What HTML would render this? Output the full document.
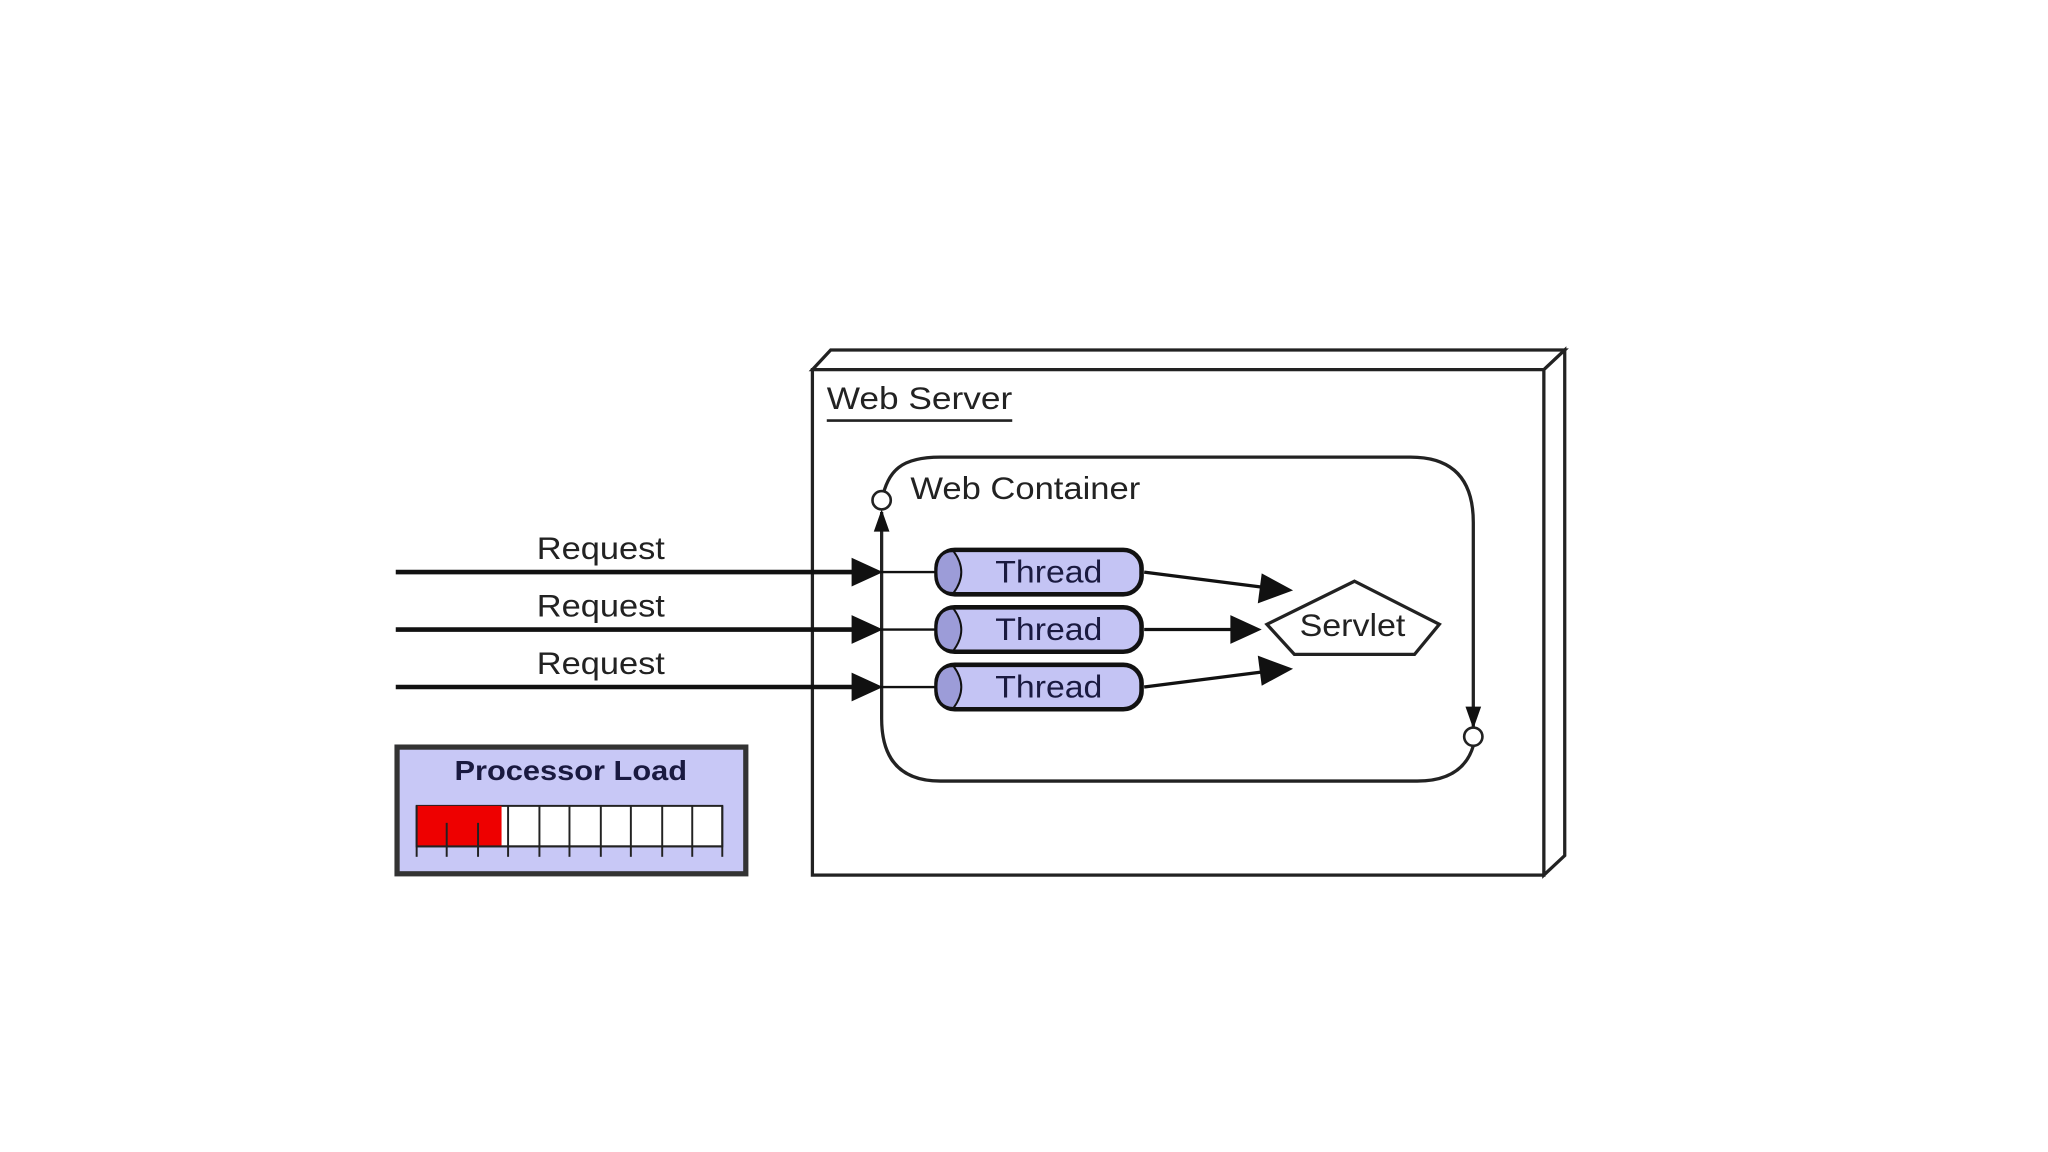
<!DOCTYPE html>
<html><head><meta charset="utf-8"><style>html,body{margin:0;padding:0;background:#fff;}svg{display:block}</style></head>
<body>
<svg width="2048" height="1152" viewBox="0 0 1568 882" preserveAspectRatio="none" xmlns="http://www.w3.org/2000/svg" font-family="Liberation Sans, sans-serif">
<rect width="1568" height="882" fill="#fff"/>
<g stroke="#222" stroke-width="2.5" fill="#fff">
<polygon points="622,283 636,268 1198,268 1182,283"/>
<polygon points="1182,283 1198,268 1198,655 1182,670"/>
<rect x="622" y="283" width="560" height="387"/>
</g>
<text x="633" y="313" font-size="24" fill="#222" textLength="142" lengthAdjust="spacingAndGlyphs">Web Server</text>
<line x1="633" y1="322" x2="775" y2="322" stroke="#222" stroke-width="2"/>
<path d="M675,383 C680,360 690,350 720,350 L1080,350 Q1128,350 1128,400 L1128,557" fill="none" stroke="#222" stroke-width="2.5"/>
<path d="M675,392 L675,550 Q675,598 720,598 L1085,598 Q1120,598 1128,571" fill="none" stroke="#222" stroke-width="2.5"/>
<polygon points="675,390 669,407 681,407" fill="#111"/>
<polygon points="1128,558 1122,541 1134,541" fill="#111"/>
<circle cx="675" cy="383" r="7" fill="#fff" stroke="#222" stroke-width="2"/>
<circle cx="1128" cy="564" r="7" fill="#fff" stroke="#222" stroke-width="2"/>
<text x="697" y="382" font-size="24" fill="#222" textLength="176" lengthAdjust="spacingAndGlyphs">Web Container</text>
<g font-size="24" fill="#222">
<text x="411" y="428" textLength="98" lengthAdjust="spacingAndGlyphs">Request</text>
<text x="411" y="472" textLength="98" lengthAdjust="spacingAndGlyphs">Request</text>
<text x="411" y="516" textLength="98" lengthAdjust="spacingAndGlyphs">Request</text>
</g>
<g stroke="#111">
<line x1="303" y1="438" x2="655" y2="438" stroke-width="3.5"/>
<line x1="303" y1="482" x2="655" y2="482" stroke-width="3.5"/>
<line x1="303" y1="526" x2="655" y2="526" stroke-width="3.5"/>
<line x1="655" y1="438" x2="718" y2="438" stroke-width="1.8"/>
<line x1="655" y1="482" x2="718" y2="482" stroke-width="1.8"/>
<line x1="655" y1="526" x2="718" y2="526" stroke-width="1.8"/>
</g>
<g fill="#111">
<polygon points="676,438 652,427 652,449"/>
<polygon points="676,482 652,471 652,493"/>
<polygon points="676,526 652,515 652,537"/>
</g>
<g>
<rect x="717" y="421" width="157" height="34" rx="14" fill="#c4c4f4" stroke="#111" stroke-width="3.5"/>
<path d="M730,422 Q742,438 730,454 Q717,454 717,438 Q717,422 730,422Z" fill="#9c9cd8" stroke="#111" stroke-width="1.5"/>
<rect x="717" y="465" width="157" height="34" rx="14" fill="#c4c4f4" stroke="#111" stroke-width="3.5"/>
<path d="M730,466 Q742,482 730,498 Q717,498 717,482 Q717,466 730,466Z" fill="#9c9cd8" stroke="#111" stroke-width="1.5"/>
<rect x="717" y="509" width="157" height="34" rx="14" fill="#c4c4f4" stroke="#111" stroke-width="3.5"/>
<path d="M730,510 Q742,526 730,542 Q717,542 717,526 Q717,510 730,510Z" fill="#9c9cd8" stroke="#111" stroke-width="1.5"/>
</g>
<g font-size="24" fill="#1a1a40">
<text x="762" y="446" textLength="82" lengthAdjust="spacingAndGlyphs">Thread</text>
<text x="762" y="490" textLength="82" lengthAdjust="spacingAndGlyphs">Thread</text>
<text x="762" y="534" textLength="82" lengthAdjust="spacingAndGlyphs">Thread</text>
</g>
<g stroke="#111" stroke-width="2.5">
<line x1="876" y1="438" x2="970" y2="450"/>
<line x1="876" y1="482" x2="945" y2="482"/>
<line x1="876" y1="526" x2="970" y2="514"/>
</g>
<g fill="#111">
<polygon points="990,452 966,439 963,462"/>
<polygon points="966,482 942,471 942,493"/>
<polygon points="990,512 963,502 966,525"/>
</g>
<polygon points="1037,445 1102,478 1083,501 991,501 970,478" fill="#fff" stroke="#222" stroke-width="2.5"/>
<text x="995" y="487" font-size="24" fill="#222" textLength="81" lengthAdjust="spacingAndGlyphs">Servlet</text>
<rect x="304" y="572" width="267" height="97" fill="#c8c8f6" stroke="#333" stroke-width="4"/>
<text x="348" y="597" font-size="21" font-weight="bold" fill="#1a1a40" textLength="178" lengthAdjust="spacingAndGlyphs">Processor Load</text>
<rect x="319" y="617" width="234" height="31" fill="#fff" stroke="#222" stroke-width="1.5"/>
<rect x="319" y="617" width="65" height="31" fill="#ee0000"/>
<g stroke="#222" stroke-width="1.5">
<line x1="319" y1="617" x2="319" y2="656"/><line x1="342" y1="630" x2="342" y2="656"/>
<line x1="366" y1="630" x2="366" y2="656"/><line x1="389" y1="617" x2="389" y2="656"/>
<line x1="413" y1="617" x2="413" y2="656"/><line x1="436" y1="617" x2="436" y2="656"/>
<line x1="460" y1="617" x2="460" y2="656"/><line x1="483" y1="617" x2="483" y2="656"/>
<line x1="507" y1="617" x2="507" y2="656"/><line x1="530" y1="617" x2="530" y2="656"/>
<line x1="553" y1="617" x2="553" y2="656"/>
<line x1="319" y1="648" x2="553" y2="648"/>
</g>
</svg>
</body></html>
